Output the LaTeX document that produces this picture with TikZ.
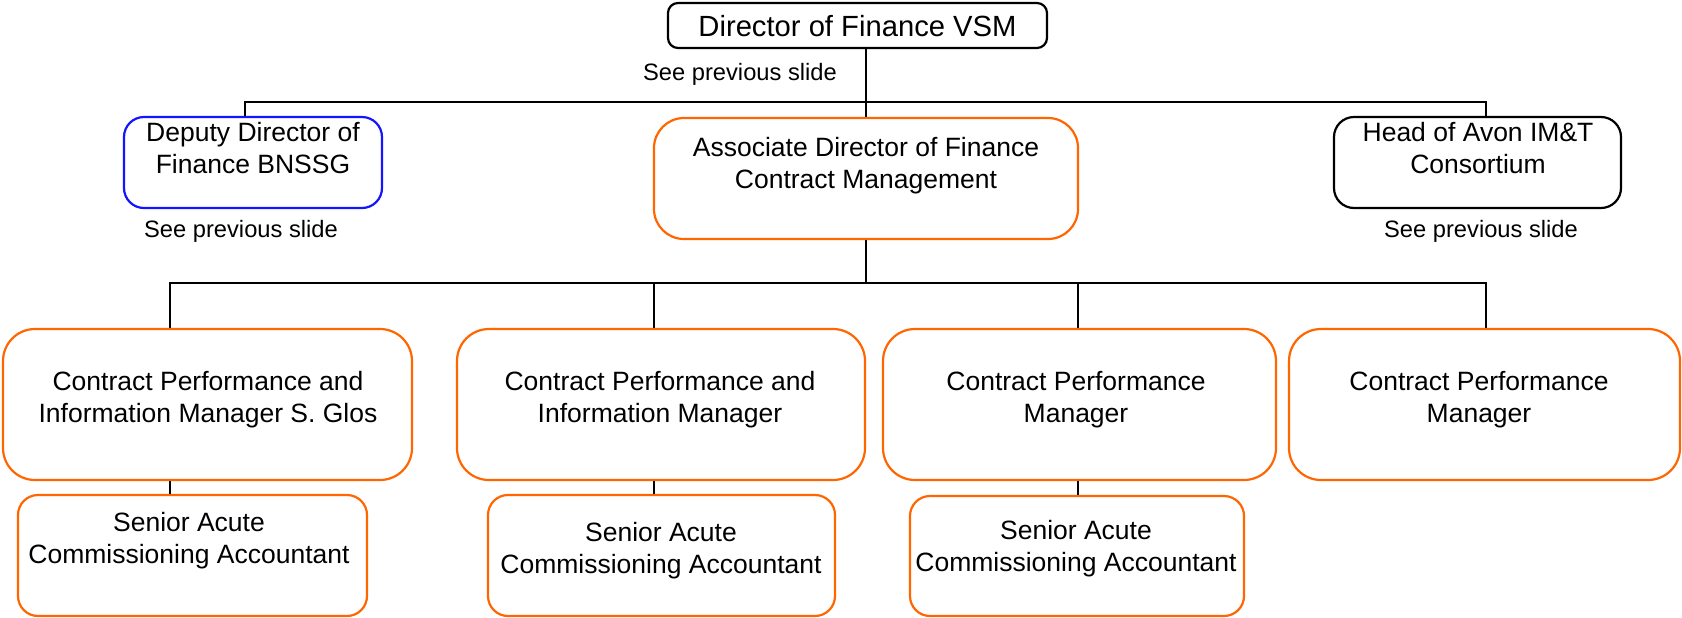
\documentclass[tikz,border=0pt]{standalone}
\usepackage{fontspec}
\setmainfont{Liberation Sans}
\definecolor{orgline}{RGB}{255,102,0}
\definecolor{bluline}{RGB}{20,20,255}
\begin{document}
\begin{tikzpicture}[x=0.5pt,y=-0.5pt,
  box/.style={draw, line width=1.1pt, fill=white, inner sep=0pt},
  obox/.style={box, draw=orgline},
  txt/.style={inner sep=0pt, align=center, font=\fontsize{13.25}{16}\selectfont, execute at begin node=\strut},
  note/.style={inner sep=0pt, anchor=base, font=\fontsize{11.85}{14}\selectfont},
  conn/.style={draw=black, line width=1pt},
  bar/.style={draw=black, line width=1.4pt}]
\useasboundingbox (0,0) rectangle (1682,617);
% top row
\node[box, rounded corners=5pt, minimum width=189.5pt, minimum height=22.5pt] (dir) at (857.5,25.5) {};
\node[inner sep=0pt, anchor=base, font=\fontsize{14.6}{17}\selectfont] (dirT) at (857.5,36.5) {Director of Finance VSM};
\node[note] (noteA) at (740,80.5) {See previous slide};
\node[box, draw=bluline, rounded corners=10pt, minimum width=129pt, minimum height=45.5pt] (dep) at (253,162.5) {};
\node[txt] (depT) at (253,152.5) {Deputy Director of\\\strut Finance BNSSG};
\node[note] (noteB) at (241,237.5) {See previous slide};
\node[obox, rounded corners=15pt, minimum width=212pt, minimum height=60.5pt] (assoc) at (866,178.5) {};
\node[txt] (assocT) at (866,168) {Associate Director of Finance\\\strut Contract Management};
\node[box, rounded corners=10pt, minimum width=143.5pt, minimum height=45.5pt] (head) at (1477.5,162.5) {};
\node[txt] (headT) at (1478,152.5) {Head of Avon IM\&T\\\strut Consortium};
\node[note] (noteC) at (1481,237.5) {See previous slide};
% second row
\node[obox, rounded corners=16pt, minimum width=204.5pt, minimum height=75.5pt] (b1) at (207.5,404.5) {};
\node[txt] (b1T) at (208,402) {Contract Performance and\\\strut Information Manager S. Glos};
\node[obox, rounded corners=16pt, minimum width=204pt, minimum height=75.5pt] (b2) at (661,404.5) {};
\node[txt] (b2T) at (660,402) {Contract Performance and\\\strut Information Manager};
\node[obox, rounded corners=16pt, minimum width=196.5pt, minimum height=75.5pt] (b3) at (1079.5,404.5) {};
\node[txt] (b3T) at (1076,401.5) {Contract Performance\\\strut Manager};
\node[obox, rounded corners=16pt, minimum width=195.5pt, minimum height=75.5pt] (b4) at (1484.5,404.5) {};
\node[txt] (b4T) at (1479,401.5) {Contract Performance\\\strut Manager};
% third row
\node[obox, rounded corners=10pt, minimum width=174.5pt, minimum height=60.5pt] (s1) at (192.5,555.5) {};
\node[txt] (s1T) at (189,543) {Senior Acute\\\strut Commissioning Accountant};
\node[obox, rounded corners=10pt, minimum width=173.5pt, minimum height=60.5pt] (s2) at (661.5,555.5) {};
\node[txt] (s2T) at (661,553) {Senior Acute\\\strut Commissioning Accountant};
\node[obox, rounded corners=10pt, minimum width=167pt, minimum height=60pt] (s3) at (1077,556) {};
\node[txt] (s3T) at (1076,551) {Senior Acute\\\strut Commissioning Accountant};
% connectors
\coordinate (topbar) at (866,102);
\coordinate (midbar) at (866,283);
\path[conn] (dir.south -| assoc.north) -- (assoc.north);
\path[bar] ([xshift=-4pt]dep.north) |- (topbar) -| ([xshift=4.25pt]head.north);
\path[conn] (assoc.south) -- (midbar);
\path[bar] ([xshift=-18.75pt]b1.north) |- (midbar) -| ([xshift=0.75pt]b4.north);
\path[conn] ([xshift=-3.5pt]b2.north) -- ([xshift=-3.5pt]b2.north |- midbar);
\path[conn] ([xshift=-0.75pt]b3.north) -- ([xshift=-0.75pt]b3.north |- midbar);
\path[conn] ([xshift=-18.75pt]b1.south) -- ([xshift=-18.75pt]b1.south |- s1.north);
\path[conn] ([xshift=-3.5pt]b2.south) -- ([xshift=-3.5pt]b2.south |- s2.north);
\path[conn] ([xshift=-0.75pt]b3.south) -- ([xshift=-0.75pt]b3.south |- s3.north);
\end{tikzpicture}
\end{document}
